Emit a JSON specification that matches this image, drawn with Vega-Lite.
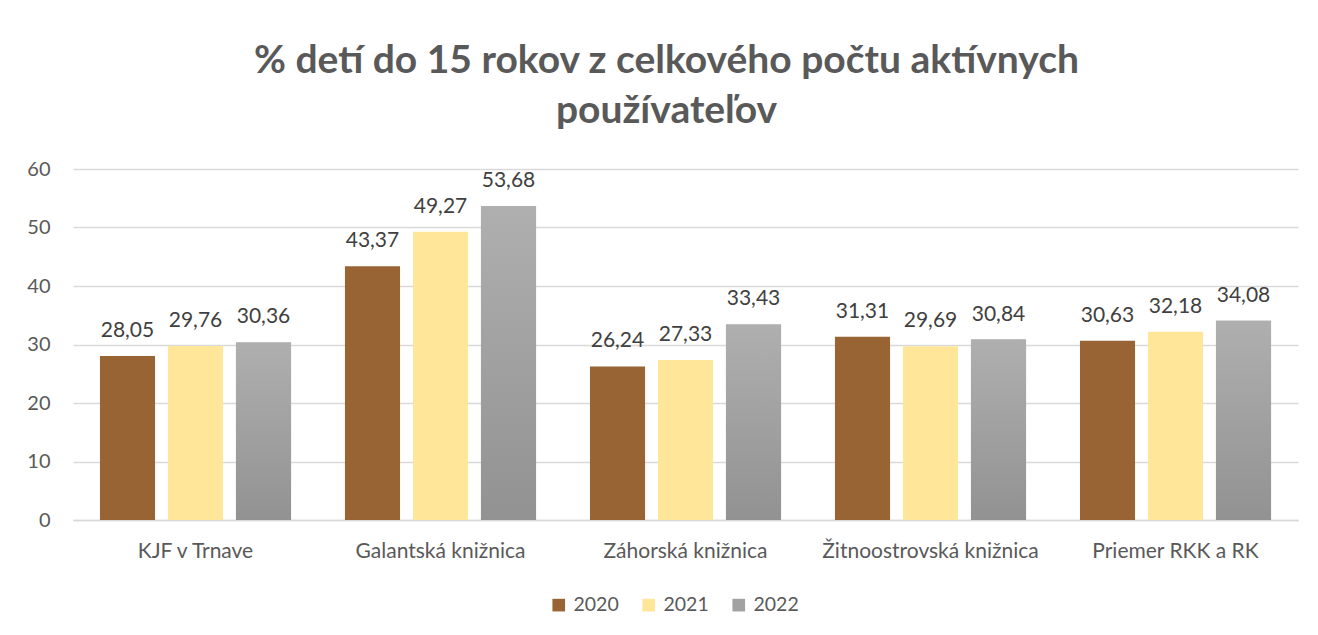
{
  "$schema": "https://vega.github.io/schema/vega-lite/v6.json",
  "width": 1225,
  "height": 351,
  "autosize": {"type": "none"},
  "padding": {"left": 73, "top": 169, "right": 20, "bottom": 115},
  "background": "white",
  "config": {
    "font": "Lato",
    "view": {"stroke": null},
    "locale": {"number": {"decimal": ",", "thousands": " ", "grouping": [3], "currency": ["", " €"]}}
  },
  "title": {
    "text": ["% detí do 15 rokov z celkového počtu aktívnych", "používateľov"],
    "fontSize": 39,
    "fontWeight": "bold",
    "color": "#595959",
    "lineHeight": 50,
    "anchor": "middle",
    "dx": -19,
    "offset": 28
  },
  "data": {
    "values": [
      {"kniznica": "KJF v Trnave", "rok": "2020", "hodnota": 28.05},
      {"kniznica": "KJF v Trnave", "rok": "2021", "hodnota": 29.76},
      {"kniznica": "KJF v Trnave", "rok": "2022", "hodnota": 30.36},
      {"kniznica": "Galantská knižnica", "rok": "2020", "hodnota": 43.37},
      {"kniznica": "Galantská knižnica", "rok": "2021", "hodnota": 49.27},
      {"kniznica": "Galantská knižnica", "rok": "2022", "hodnota": 53.68},
      {"kniznica": "Záhorská knižnica", "rok": "2020", "hodnota": 26.24},
      {"kniznica": "Záhorská knižnica", "rok": "2021", "hodnota": 27.33},
      {"kniznica": "Záhorská knižnica", "rok": "2022", "hodnota": 33.43},
      {"kniznica": "Žitnoostrovská knižnica", "rok": "2020", "hodnota": 31.31},
      {"kniznica": "Žitnoostrovská knižnica", "rok": "2021", "hodnota": 29.69},
      {"kniznica": "Žitnoostrovská knižnica", "rok": "2022", "hodnota": 30.84},
      {"kniznica": "Priemer RKK a RK", "rok": "2020", "hodnota": 30.63},
      {"kniznica": "Priemer RKK a RK", "rok": "2021", "hodnota": 32.18},
      {"kniznica": "Priemer RKK a RK", "rok": "2022", "hodnota": 34.08}
    ]
  },
  "encoding": {
    "x": {
      "field": "kniznica",
      "type": "nominal",
      "sort": null,
      "scale": {"paddingInner": 0.22, "paddingOuter": 0.11},
      "axis": {
        "title": null,
        "labelAngle": 0,
        "labelFontSize": 21,
        "labelColor": "#595959",
        "labelPadding": 20,
        "labelLimit": 0,
        "ticks": false,
        "domainColor": "#d9d9d9",
        "domainWidth": 1.5
      }
    },
    "xOffset": {
      "field": "rok",
      "type": "nominal",
      "sort": ["2020", "2021", "2022"],
      "scale": {"paddingInner": 0.19, "paddingOuter": 0}
    },
    "y": {
      "field": "hodnota",
      "type": "quantitative",
      "scale": {"domain": [0, 60]},
      "axis": {
        "title": null,
        "values": [0, 10, 20, 30, 40, 50, 60],
        "labelFontSize": 20,
        "labelColor": "#595959",
        "labelPadding": 23,
        "ticks": false,
        "domain": false,
        "gridColor": "#d9d9d9",
        "gridWidth": 1.5
      }
    }
  },
  "layer": [
    {
      "mark": {"type": "bar"},
      "encoding": {
        "color": {
          "field": "rok",
          "type": "nominal",
          "scale": {
            "domain": ["2020", "2021", "2022"],
            "range": ["#986433", "#ffe699", "#a2a2a2"]
          },
          "legend": {
            "title": null,
            "orient": "none",
            "direction": "horizontal",
            "legendX": 476,
            "legendY": 426,
            "symbolType": "square",
            "symbolSize": 160,
            "symbolStrokeWidth": 0,
            "labelFontSize": 19.5,
            "labelColor": "#595959",
            "columnPadding": 20,
            "labelOffset": 5
          }
        }
      }
    },
    {
      "transform": [{"filter": "datum.rok === '2022'"}],
      "mark": {
        "type": "bar",
        "fill": {"gradient": "linear", "x1": 0, "y1": 0, "x2": 0, "y2": 1, "stops": [{"offset": 0, "color": "#afafaf"}, {"offset": 1, "color": "#929292"}]}
      },
      "encoding": {}
    },
    {
      "mark": {"type": "text", "baseline": "alphabetic", "dy": -19, "fontSize": 21, "color": "#404040"},
      "encoding": {
        "text": {"field": "hodnota", "type": "quantitative", "format": ".2f"}
      }
    }
  ]
}
